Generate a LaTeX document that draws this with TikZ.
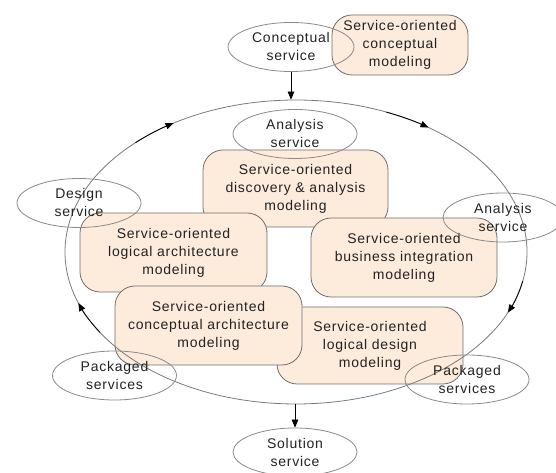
\documentclass[tikz,border=0pt]{standalone}
\usepackage{fontspec}
\setmainfont{Liberation Sans}[LetterSpace=5.5]
\usetikzlibrary{arrows.meta,shapes.geometric}
\definecolor{boxfill}{HTML}{FDEBDC}
\definecolor{boxline}{HTML}{6E6E6E}
\definecolor{ovalline}{HTML}{8A8A8A}
\definecolor{ringline}{HTML}{7A7A7A}
\definecolor{txt}{HTML}{222222}
\tikzset{
  lbl/.style={font=\fontsize{14pt}{18pt}\selectfont, text=txt, align=center, inner sep=0pt},
  phase/.style={lbl, draw=boxline, line width=0.8pt, fill=boxfill, rounded corners=20pt},
  svc/.style={lbl, ellipse, draw=ovalline, line width=0.8pt, minimum width=124pt, minimum height=49pt},
  ring/.style={ellipse, draw=ringline, line width=0.8pt, inner sep=0pt, minimum width=462pt, minimum height=304pt},
  flow/.style={draw=black, line width=0.8pt, -{Triangle[length=8pt,width=6.5pt]}},
}
\begin{document}
\begin{tikzpicture}[x=1pt,y=1pt]
\useasboundingbox (0,0) rectangle (556,473);

% modeling phases
\node[phase, minimum width=136pt, minimum height=60pt] (cmod) at (400,428)
  {Service-oriented\\conceptual\\modeling};
\node[phase, minimum width=185pt, minimum height=77pt] (disc) at (295.5,284.5)
  {Service-oriented\\discovery \& analysis\\modeling};
\node[phase, minimum width=187pt, minimum height=79pt] (larch) at (173.5,220.5)
  {Service-oriented\\logical architecture\\modeling};
\node[phase, minimum width=186pt, minimum height=79pt] (biz) at (404,215.5)
  {Service-oriented\\business integration\\modeling};
\node[phase, minimum width=186pt, minimum height=77pt] (ldes) at (370,127.5)
  {Service-oriented\\logical design\\modeling};
\node[phase, minimum width=187pt, minimum height=79pt] (carch) at (208.5,147.5)
  {Service-oriented\\conceptual architecture\\modeling};

% life-cycle ring
\node[ring] (cyc) at (296,221) {};
\coordinate (c) at (296,221);
\draw[flow] (c) ++(134:231pt and 152pt) arc[start angle=134, end angle=122, x radius=231pt, y radius=152pt];
\draw[flow] (c) ++(67:231pt and 152pt) arc[start angle=67, end angle=55, x radius=231pt, y radius=152pt];
\draw[flow] (c) ++(-11:231pt and 152pt) arc[start angle=-11, end angle=-23.5, x radius=231pt, y radius=152pt];
\draw[flow] (c) ++(212:231pt and 152pt) arc[start angle=212, end angle=199.6, x radius=231pt, y radius=152pt];

% services
\node[svc, minimum width=126pt] (csvc) at (291,426) {Conceptual\\service};
\node[svc] (asvc) at (295,339) {Analysis\\service};
\node[svc] (dsvc) at (79,270) {Design\\service};
\node[svc, minimum width=120pt] (asvc2) at (503,255.5) {Analysis\\service};
\node[svc] (pk1) at (114.5,97.5) {Packaged\\services};
\node[svc] (pk2) at (467,93.5) {Packaged\\services};
\node[svc, minimum height=48pt] (sol) at (295,21) {Solution\\service};

% entry and exit
\draw[flow] (csvc.south) -- (csvc.south |- cyc.north);
\draw[flow] (sol.north |- cyc.south) -- (sol.north);
\end{tikzpicture}
\end{document}
